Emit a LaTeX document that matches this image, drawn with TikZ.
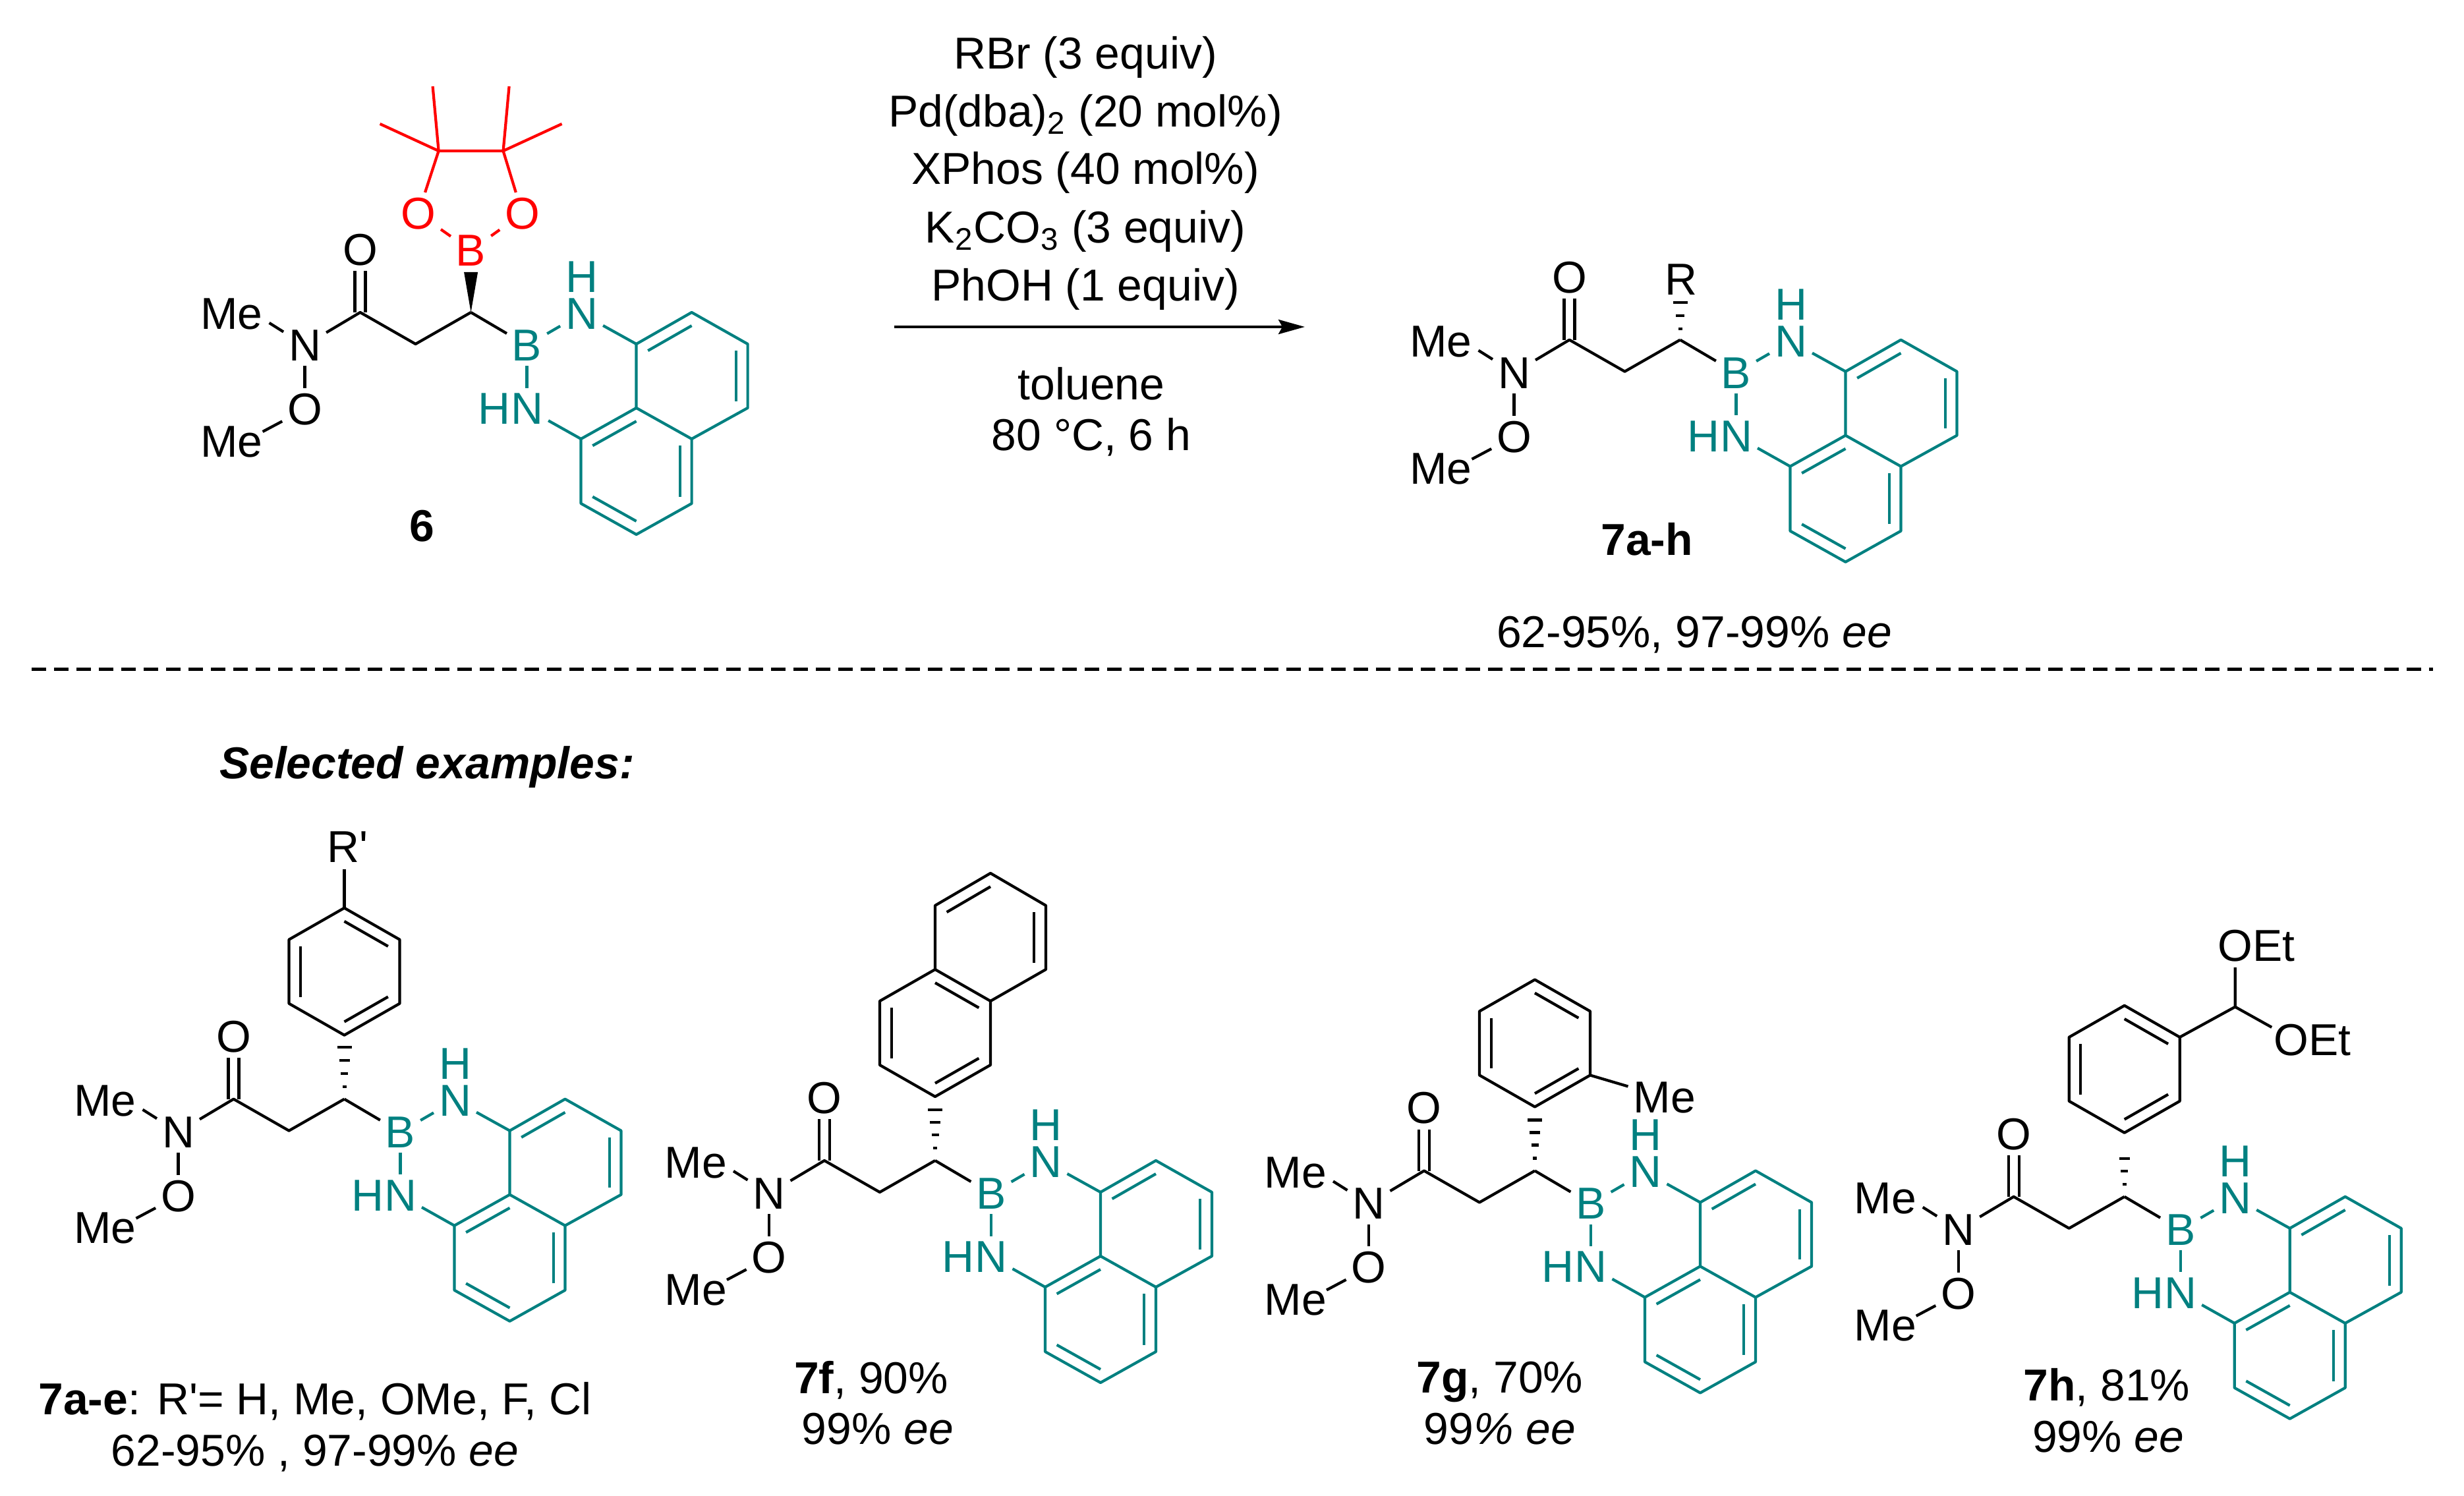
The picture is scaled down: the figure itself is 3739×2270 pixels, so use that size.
\documentclass[tikz,border=0pt]{standalone}
\usepackage{fontspec}
\setmainfont[Ligatures=TeXOff]{Liberation Sans}
\usetikzlibrary{calc}
\usetikzlibrary{arrows.meta}
\definecolor{dancol}{RGB}{0,128,128}
\definecolor{pincol}{RGB}{255,0,0}
\newcommand\inbond[3]{\draw ($(#1)!.21!(#3)$) -- ($(#2)!.21!(#3)$);}
\newcommand\hashbond[1]{\foreach \h/\w in {#1} \draw ($(ch)+(-\w,-\h)$) -- ($(ch)+(\w,-\h)$);}
\tikzset{
	atom/.style={font=\fontsize{19.3}{23}\selectfont, inner sep=.8mm, outer sep=0pt},
	lab/.style={font=\fontsize{19.3}{23}\selectfont, inner sep=0pt, anchor=base},
	scaffold/.pic={
		% Amide side
		\coordinate (ch) at (0,0);
		\coordinate (ch2) at (-84,48);
		\coordinate (co) at (-168,0);
		\node [atom] (o1) at (-168,-95) {O};
		\node [atom] (n1) at (-252,50) {N};
		\node [atom] (o2) at (-252,147) {O};
		\node [atom] (me1) at (-363,3) {Me};
		\node [atom] (me2) at (-363,196) {Me};
		\coordinate (me1end) at (-306,16);
		\coordinate (me2end) at (-316,181);
		\draw (me1end) -- (n1);
		\draw (n1) -- (co) -- (ch2) -- (ch);
		\draw (n1) -- (o2);
		\draw (o2) -- (me2end);
		\draw ($(co)+(-8,0)$) -- ($(o1.south)+(-8,0)$);
		\draw ($(co)+(8,0)$) -- ($(o1.south)+(8,0)$);
		% Boron and naphthalene part
		\begin{scope}[dancol]
			\node [atom] (b1) at (85,50) {B};
			\node [atom] (n2) at (168,2) {N};
			\node [atom] (h2) at (168,-54) {H};
			\node [atom] (n3) at (85,146) {N};
			\node [atom] (h3) at (35,146) {H};
			\coordinate (a1) at (251,48);
			\coordinate (a2) at (335,0);
			\coordinate (a3) at (420,48);
			\coordinate (a4) at (420,145);
			\coordinate (a5) at (335,192);
			\coordinate (a6) at (251,145);
			\coordinate (a7) at (167,192);
			\coordinate (a8) at (167,290);
			\coordinate (a9) at (251,337);
			\coordinate (a10) at (335,290);
			\coordinate (r1) at (335,96);
			\coordinate (r2) at (251,241);
			\draw (b1) -- (n2);
			\draw (b1) -- (n3);
			\draw (n2) -- (a1);
			\draw (n3) -- (a7);
			\draw (a1) -- (a2) -- (a3) -- (a4) -- (a5) -- (a6) -- cycle;
			\draw (a6) -- (a7) -- (a8) -- (a9) -- (a10) -- (a5);
			\inbond{a1}{a2}{r1}
			\inbond{a3}{a4}{r1}
			\inbond{a6}{a7}{r2}
			\inbond{a8}{a9}{r2}
			\inbond{a10}{a5}{r2}
		\end{scope}
		\draw [black] (ch) -- (b1);
	},
	aryl/.pic={
		\coordinate (c1) at (0,-97);
		\coordinate (c2) at (84,-145);
		\coordinate (c3) at (84,-242);
		\coordinate (c4) at (0,-290);
		\coordinate (c5) at (-84,-242);
		\coordinate (c6) at (-84,-145);
		\coordinate (r3) at (0,-193.5);
		\draw (c1) -- (c2) -- (c3) -- (c4) -- (c5) -- (c6) -- cycle;
		\inbond{c1}{c2}{r3}
		\inbond{c3}{c4}{r3}
		\inbond{c5}{c6}{r3}
	}
}

\begin{document}
\begin{tikzpicture}[x=.1mm, y=-.1mm, line width=1.2pt, line join=round]

	\useasboundingbox (0,0) rectangle (3739,2270);

	% Drawing substrate 6
	\begin{scope}[shift={(714.6,474)}, name prefix=s-]
		\pic {scaffold};
		\begin{scope}[pincol]
			\node [atom] (b2) at (0,-94) {B};
			\node [atom] (o3) at (-80,-150) {O};
			\node [atom] (o4) at (78,-150) {O};
			\coordinate (p1) at (-49,-245);
			\coordinate (p2) at (49,-245);
			\coordinate (m1) at (-58,-343);
			\coordinate (m2) at (-138,-286);
			\coordinate (m3) at (58,-343);
			\coordinate (m4) at (138,-286);
			\draw (b2) -- (o3);
			\draw (b2) -- (o4);
			\draw (o3) -- (p1) -- (p2) -- (o4);
			\draw (m1) -- (p1) -- (m2);
			\draw (m3) -- (p2) -- (m4);
		\end{scope}
		\fill (ch) -- ($(ch)+(-10.5,-61)$) -- ($(ch)+(10.5,-61)$) -- cycle;
	\end{scope}
	\node [lab] (lab6) at (640,822) {\textbf{6}};

	% Drawing conditions and arrow
	\node [lab] (cond1) at (1647,105) {RBr (3 equiv)};
	\node [lab] (cond2) at (1647,193) {Pd(dba)\textsubscript{2} (20 mol\%)};
	\node [lab] (cond3) at (1647,280) {XPhos (40 mol\%)};
	\node [lab] (cond4) at (1647,369) {K\textsubscript{2}CO\textsubscript{3} (3 equiv)};
	\node [lab] (cond5) at (1647,457) {PhOH (1 equiv)};
	\node [lab] (cond6) at (1656,607) {toluene};
	\node [lab] (cond7) at (1656,684) {80 °C, 6 h};
	\coordinate (arrowa) at (1357,496);
	\coordinate (arrowb) at (1980,496);
	\draw [-{Stealth[length=4mm, width=2.2mm, inset=.6mm]}] (arrowa) -- (arrowb);

	% Drawing product 7a-h
	\begin{scope}[shift={(2549.5,515.7)}, name prefix=p-]
		\pic {scaffold};
		\hashbond{17/3,37/6.5,57/11}
		\node [atom] (r) at (1,-92) {R};
	\end{scope}
	\node [lab] (labp) at (2499,843) {\textbf{7a-h}};
	\node [lab] (yieldp) at (2571,982) {62-95\%, 97-99\% \textit{ee}};

	% Drawing separating line
	\coordinate (sepa) at (48,1015.5);
	\coordinate (sepb) at (3692,1015.5);
	\draw [line width=1.3pt, dash pattern=on 2.2mm off 1.2mm] (sepa) -- (sepb);
	\node [lab, anchor=base west] (sel) at (331,1181) {\textbf{\textit{Selected examples:}}};

	% Drawing example 7a-e
	\begin{scope}[shift={(522.5,1667.7)}, name prefix=a-]
		\pic {scaffold};
		\pic {aryl};
		\hashbond{19/3,39/5.5,59/8,79/11}
		\node [atom] (rp) at (5,-383) {R'};
		\coordinate (rpend) at (0,-349);
		\draw (c4) -- (rpend);
	\end{scope}
	\node [lab] (laba) at (478,2146) {\textbf{7a-e}: R'= H, Me, OMe, F, Cl};
	\node [lab] (yielda) at (478,2224) {62-95\% , 97-99\% \textit{ee}};

	% Drawing example 7f
	\begin{scope}[shift={(1419,1761)}, name prefix=f-]
		\pic {scaffold};
		\pic {aryl};
		\hashbond{19/3,39/5.5,58/8,77/11}
		\coordinate (d1) at (0,-387);
		\coordinate (d2) at (84,-436);
		\coordinate (d3) at (168,-387);
		\coordinate (d4) at (168,-290);
		\coordinate (r4) at (84,-339);
		\draw (c4) -- (d1) -- (d2) -- (d3) -- (d4) -- (c3);
		\inbond{d1}{d2}{r4}
		\inbond{d3}{d4}{r4}
	\end{scope}
	\node [lab] (labf) at (1322,2114) {\textbf{7f}, 90\%};
	\node [lab] (yieldf) at (1332,2191) {99\% \textit{ee}};

	% Drawing example 7g
	\begin{scope}[shift={(2329,1776.5)}, name prefix=g-]
		\pic {scaffold};
		\pic {aryl};
		\hashbond{19/3,39/5.5,58/8,77/11}
		\node [atom] (me3) at (197,-111) {Me};
		\coordinate (me3end) at (141.5,-128);
		\draw (c2) -- (me3end);
	\end{scope}
	\node [lab] (labg) at (2276,2113) {\textbf{7g}, 70\%};
	\node [lab] (yieldg) at (2276,2191) {99\textit{\% ee}};

	% Drawing example 7h
	\begin{scope}[shift={(3223.7,1815.8)}, name prefix=h-]
		\pic {scaffold};
		\pic {aryl};
		\hashbond{19/3,39/5.5,58/8}
		\coordinate (ace) at (168,-288);
		\coordinate (ace1) at (168,-348);
		\coordinate (ace2) at (223.5,-257);
		\node [atom] (oet1) at (200,-381) {OEt};
		\node [atom] (oet2) at (285,-238) {OEt};
		\draw (c3) -- (ace) -- (ace1);
		\draw (ace) -- (ace2);
	\end{scope}
	\node [lab] (labh) at (3197,2125) {\textbf{7h}, 81\%};
	\node [lab] (yieldh) at (3199,2203) {99\% \textit{ee}};

\end{tikzpicture}
\end{document}
